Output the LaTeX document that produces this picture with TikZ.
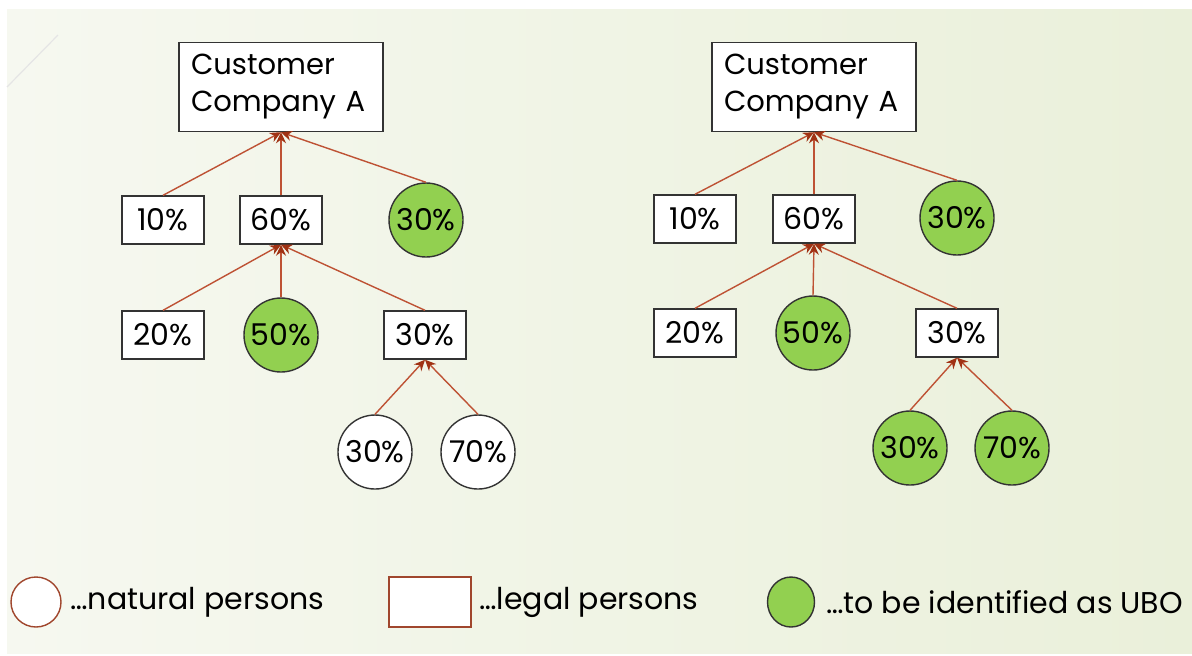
\documentclass[tikz,border=0pt]{standalone}
\usepackage{fontspec}
\setmainfont{Poppins}
\usetikzlibrary{arrows.meta,shapes.geometric}

\definecolor{linkred}{RGB}{190,82,52}
\definecolor{tipred}{RGB}{160,50,20}
\definecolor{ubogreen}{RGB}{146,208,80}
\definecolor{legbrown}{RGB}{160,70,45}
\definecolor{slideL}{RGB}{246,248,240}
\definecolor{slideM}{RGB}{250,251,246}
\definecolor{slideR}{RGB}{234,240,218}

\tikzset{
    legal/.style={draw=black!80, fill=white, line width=0.7pt, minimum width=41pt, minimum height=24pt, inner sep=0pt, font=\fontsize{15}{17}\selectfont},
    natural/.style={circle, draw=black!80, fill=white, line width=0.7pt, minimum size=37pt, inner sep=0pt, font=\fontsize{15}{17}\selectfont},
    ubo/.style={natural, fill=ubogreen},
    top/.style={draw=black!80, fill=white, line width=0.7pt, text width=90pt, align=left, minimum height=43pt, inner sep=6pt, font=\fontsize{14.5}{18.5}\selectfont},
    owns/.style={draw=linkred, line width=0.7pt, -{Stealth[length=5.5pt,width=5pt,color=tipred]}},
    legtext/.style={anchor=west, inner sep=0pt, font=\fontsize{15}{18}\selectfont}
}

\begin{document}
\begin{tikzpicture}[x=0.5pt,y=-0.5pt]
    \useasboundingbox (0,0) rectangle (1192,655);

    % Slide background
    \shade[left color=slideL, middle color=slideM, right color=slideR] (7,9) rectangle (1192,653);
    \draw[black!10, line width=0.6pt] (7,87) -- (58,35);

    % Left tree
    \node[top] (cA) at (281,87) {Customer\\Company A};
    \node[legal] (a10) at (163,220) {10\%};
    \node[legal] (a60) at (281,220) {60\%};
    \node[ubo] (a30) at (426,220) {30\%};
    \node[legal] (a20) at (163,335) {20\%};
    \node[ubo] (a50) at (281,335) {50\%};
    \node[legal] (a30b) at (425,335) {30\%};
    \node[natural] (a30n) at (375,452) {30\%};
    \node[natural] (a70n) at (478,452) {70\%};

    \draw[owns] (a10.north) -- (cA.south);
    \draw[owns] (a60.north) -- (cA.south);
    \draw[owns] (a30.north) -- (cA.south);
    \draw[owns] (a20.north) -- (a60.south);
    \draw[owns] (a50.north) -- (a60.south);
    \draw[owns] (a30b.north) -- (a60.south);
    \draw[owns] (a30n.north) -- (a30b.south);
    \draw[owns] (a70n.north) -- (a30b.south);

    % Right tree
    \node[top] (cB) at (814,87) {Customer\\Company A};
    \node[legal] (b10) at (695,219) {10\%};
    \node[legal] (b60) at (814,219) {60\%};
    \node[ubo] (b30) at (957,218) {30\%};
    \node[legal] (b20) at (695,333) {20\%};
    \node[ubo] (b50) at (813,333) {50\%};
    \node[legal] (b30b) at (957,333) {30\%};
    \node[ubo] (b30n) at (910,448) {30\%};
    \node[ubo] (b70n) at (1012,448) {70\%};

    \draw[owns] (b10.north) -- (cB.south);
    \draw[owns] (b60.north) -- (cB.south);
    \draw[owns] (b30.north) -- (cB.south);
    \draw[owns] (b20.north) -- (b60.south);
    \draw[owns] (b50.north) -- (b60.south);
    \draw[owns] (b30b.north) -- (b60.south);
    \draw[owns] (b30n.north) -- (b30b.south);
    \draw[owns] (b70n.north) -- (b30b.south);

    % Legend
    \node[circle, draw=legbrown, fill=white, line width=0.7pt, minimum size=25pt, inner sep=0pt] (kNat) at (36,602) {};
    \node[legtext] (tNat) at (70,602) {…natural persons};
    \node[draw=legbrown, fill=white, line width=0.7pt, minimum width=41pt, minimum height=25pt, inner sep=0pt] (kLeg) at (430,602) {};
    \node[legtext] (tLeg) at (479,602) {…legal persons};
    \node[ellipse, draw=black!80, fill=ubogreen, line width=0.7pt, minimum width=23.5pt, minimum height=25pt, inner sep=0pt] (kUbo) at (791,602) {};
    \node[legtext] (tUbo) at (826,602) {…to be identified as UBO};
\end{tikzpicture}
\end{document}
